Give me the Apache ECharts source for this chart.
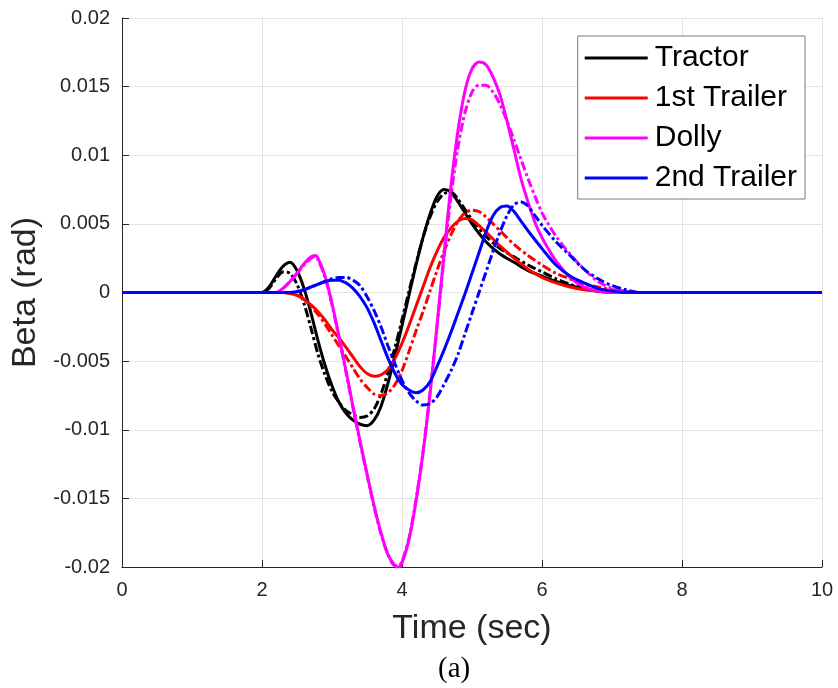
<!DOCTYPE html>
<html>
<head>
<meta charset="utf-8">
<script src="https://cdn.jsdelivr.net/npm/echarts@6/dist/echarts.min.js"></script>
<style>
  html, body { margin: 0; padding: 0; background: #fff; }
  #chart { width: 838px; height: 688px; }
</style>
</head>
<body>
<div id="chart"></div>
<script>
// Articulation angle responses [time (s), beta (rad)]
const tractorSolid = [[0,0],[2.0,0],[2.1,0.0004],[2.2,0.0012],[2.3,0.0019],[2.4,0.0022],[2.5,0.0016],[2.6,0.0003],[2.7,-0.0015],[2.8,-0.0035],[2.9,-0.0053],[3.0,-0.0068],[3.1,-0.0080],[3.2,-0.0088],[3.3,-0.0093],[3.4,-0.0096],[3.5,-0.0097],[3.6,-0.0093],[3.7,-0.0083],[3.8,-0.0066],[3.9,-0.0046],[4.0,-0.0024],[4.1,-0.0002],[4.2,0.0020],[4.3,0.0040],[4.4,0.0057],[4.5,0.0070],[4.6,0.0075],[4.7,0.0073],[4.8,0.0066],[5.0,0.0050],[5.2,0.0037],[5.4,0.0028],[5.6,0.0022],[5.8,0.0016],[6.0,0.0012],[6.2,0.0008],[6.4,0.0005],[6.6,0.0003],[6.8,0.0001],[7.0,0],[10,0]];
const tractorDash = [[0,0],[2.0,0],[2.1,0.0003],[2.2,0.0010],[2.3,0.0015],[2.4,0.0014],[2.5,0.0006],[2.6,-0.0008],[2.7,-0.0026],[2.8,-0.0045],[2.9,-0.0060],[3.0,-0.0072],[3.1,-0.0080],[3.2,-0.0086],[3.3,-0.0089],[3.4,-0.0091],[3.5,-0.0090],[3.6,-0.0085],[3.7,-0.0074],[3.8,-0.0058],[3.9,-0.0040],[4.0,-0.0020],[4.1,0.0001],[4.2,0.0021],[4.3,0.0040],[4.4,0.0055],[4.5,0.0066],[4.6,0.0072],[4.7,0.0073],[4.8,0.0068],[5.0,0.0053],[5.2,0.0041],[5.4,0.0032],[5.6,0.0026],[5.8,0.0020],[6.0,0.0015],[6.2,0.0010],[6.4,0.0006],[6.6,0.0003],[6.8,0.0001],[7.0,0],[10,0]];
const trailer1Solid = [[0,0],[2.3,0],[2.5,-0.0002],[2.6,-0.0005],[2.7,-0.0009],[2.8,-0.0014],[2.9,-0.0020],[3.0,-0.0027],[3.1,-0.0033],[3.2,-0.0040],[3.3,-0.0047],[3.4,-0.0054],[3.5,-0.0059],[3.6,-0.0061],[3.7,-0.0060],[3.8,-0.0056],[3.9,-0.0048],[4.0,-0.0037],[4.1,-0.0024],[4.2,-0.0010],[4.3,0.0004],[4.4,0.0018],[4.5,0.0030],[4.6,0.0040],[4.7,0.0047],[4.8,0.0052],[4.9,0.0054],[5.0,0.0053],[5.2,0.0044],[5.4,0.0034],[5.6,0.0025],[5.8,0.0017],[6.0,0.0011],[6.2,0.0007],[6.4,0.0004],[6.6,0.0002],[6.8,0.0001],[7.0,0],[10,0]];
const trailer1Dash = [[0,0],[2.3,0],[2.5,-0.0002],[2.6,-0.0005],[2.7,-0.0010],[2.8,-0.0016],[2.9,-0.0023],[3.0,-0.0031],[3.1,-0.0039],[3.2,-0.0047],[3.3,-0.0055],[3.4,-0.0063],[3.5,-0.0069],[3.6,-0.0074],[3.7,-0.0075],[3.8,-0.0073],[3.9,-0.0067],[4.0,-0.0057],[4.1,-0.0043],[4.2,-0.0028],[4.3,-0.0014],[4.4,0.0001],[4.5,0.0016],[4.6,0.0030],[4.7,0.0042],[4.8,0.0052],[4.9,0.0058],[5.0,0.0060],[5.1,0.0059],[5.2,0.0055],[5.4,0.0045],[5.6,0.0035],[5.8,0.0027],[6.0,0.0020],[6.2,0.0014],[6.4,0.0010],[6.6,0.0006],[6.8,0.0004],[7.0,0.0002],[7.2,0.0001],[7.4,0],[10,0]];
const dollySolid = [[0,0],[2.2,0],[2.3,0.0003],[2.4,0.0008],[2.5,0.0014],[2.6,0.0021],[2.7,0.0026],[2.76,0.0027],[2.8,0.0025],[2.9,0.0012],[3.0,-0.0008],[3.1,-0.0032],[3.2,-0.0057],[3.3,-0.0083],[3.4,-0.0108],[3.5,-0.0132],[3.6,-0.0155],[3.7,-0.0175],[3.8,-0.0191],[3.9,-0.0199],[3.95,-0.0200],[4.0,-0.0197],[4.1,-0.0180],[4.2,-0.0152],[4.3,-0.0117],[4.4,-0.0074],[4.5,-0.0024],[4.6,0.0028],[4.7,0.0078],[4.8,0.0118],[4.9,0.0147],[5.0,0.0163],[5.1,0.0168],[5.2,0.0166],[5.3,0.0157],[5.4,0.0144],[5.5,0.0125],[5.6,0.0104],[5.7,0.0083],[5.8,0.0066],[5.9,0.0051],[6.0,0.0040],[6.1,0.0031],[6.2,0.0023],[6.4,0.0011],[6.6,0.0004],[6.8,0.0001],[7.0,0],[10,0]];
const dollyDash = [[0,0],[2.2,0],[2.3,0.0003],[2.4,0.0008],[2.5,0.0014],[2.6,0.0020],[2.7,0.0025],[2.76,0.0026],[2.8,0.0024],[2.9,0.0011],[3.0,-0.0009],[3.1,-0.0033],[3.2,-0.0058],[3.3,-0.0084],[3.4,-0.0109],[3.5,-0.0133],[3.6,-0.0156],[3.7,-0.0176],[3.8,-0.0191],[3.9,-0.0199],[3.95,-0.0199],[4.0,-0.0196],[4.1,-0.0179],[4.2,-0.0151],[4.3,-0.0116],[4.4,-0.0073],[4.5,-0.0025],[4.6,0.0025],[4.7,0.0070],[4.8,0.0106],[4.9,0.0131],[5.0,0.0146],[5.1,0.0151],[5.2,0.0151],[5.3,0.0146],[5.4,0.0137],[5.5,0.0125],[5.6,0.0111],[5.7,0.0097],[5.8,0.0083],[5.9,0.0070],[6.0,0.0058],[6.1,0.0049],[6.2,0.0041],[6.4,0.0028],[6.6,0.0017],[6.8,0.0008],[7.0,0.0003],[7.2,0.0001],[7.4,0],[10,0]];
const trailer2Solid = [[0,0],[2.4,0],[2.6,0.0002],[2.7,0.0004],[2.8,0.0006],[2.9,0.0008],[3.0,0.0009],[3.1,0.0009],[3.2,0.0007],[3.3,0.0003],[3.4,-0.0003],[3.5,-0.0011],[3.6,-0.0022],[3.7,-0.0035],[3.8,-0.0048],[3.9,-0.0059],[4.0,-0.0067],[4.1,-0.0071],[4.2,-0.0073],[4.3,-0.0071],[4.4,-0.0065],[4.5,-0.0054],[4.6,-0.0042],[4.7,-0.0029],[4.8,-0.0015],[4.9,-0.0001],[5.0,0.0014],[5.1,0.0029],[5.2,0.0044],[5.3,0.0056],[5.4,0.0062],[5.5,0.0063],[5.6,0.0059],[5.7,0.0052],[5.8,0.0045],[6.0,0.0032],[6.2,0.0020],[6.4,0.0012],[6.6,0.0007],[6.8,0.0003],[7.0,0.0001],[7.2,0],[10,0]];
const trailer2Dash = [[0,0],[2.4,0],[2.6,0.0002],[2.7,0.0004],[2.8,0.0006],[2.9,0.0008],[3.0,0.0010],[3.1,0.0011],[3.2,0.0011],[3.3,0.0009],[3.4,0.0005],[3.5,-0.0003],[3.6,-0.0013],[3.7,-0.0025],[3.8,-0.0039],[3.9,-0.0052],[4.0,-0.0064],[4.1,-0.0073],[4.2,-0.0079],[4.3,-0.0082],[4.4,-0.0081],[4.5,-0.0076],[4.6,-0.0067],[4.7,-0.0057],[4.8,-0.0045],[4.9,-0.0030],[5.0,-0.0015],[5.1,0.0000],[5.2,0.0015],[5.3,0.0030],[5.4,0.0044],[5.5,0.0056],[5.6,0.0064],[5.7,0.0066],[5.8,0.0063],[5.9,0.0056],[6.0,0.0049],[6.2,0.0037],[6.4,0.0027],[6.6,0.0017],[6.8,0.0010],[7.0,0.0005],[7.2,0.0002],[7.4,0],[10,0]];

const vehicleNames = ['Tractor', '1st Trailer', 'Dolly', '2nd Trailer'];
const vehicleColors = ['#000000', '#ff0000', '#ff00ff', '#0000ff'];
const solidSets = [tractorSolid, trailer1Solid, dollySolid, trailer2Solid];
const dashSets = [tractorDash, trailer1Dash, dollyDash, trailer2Dash];

const chart = echarts.init(document.getElementById('chart'), null, { renderer: 'canvas' });

const series = [];
vehicleNames.forEach((name, i) => {
  series.push({
    name: name,
    type: 'line',
    data: solidSets[i],
    smooth: 0.3,
    showSymbol: false,
    lineStyle: { color: vehicleColors[i], width: 3 },
    itemStyle: { color: vehicleColors[i] },
    z: 2 + i
  });
  series.push({
    name: name + ' (model)',
    type: 'line',
    data: dashSets[i],
    smooth: 0.3,
    showSymbol: false,
    lineStyle: { color: vehicleColors[i], width: 3, type: [9, 3, 3, 3] },
    itemStyle: { color: vehicleColors[i] },
    z: 2 + i
  });
});

const axisFont = 'Liberation Sans, Arial, sans-serif';

chart.setOption({
  animation: false,
  backgroundColor: '#ffffff',
  grid: { left: 122, right: 16, top: 18, bottom: 121, containLabel: false },
  xAxis: {
    type: 'value',
    min: 0, max: 10, interval: 2,
    name: 'Time (sec)',
    nameLocation: 'middle',
    nameGap: 45,
    nameTextStyle: { fontFamily: axisFont, fontSize: 34, color: '#262626' },
    axisLine: { onZero: false, lineStyle: { color: '#262626', width: 1 } },
    axisTick: { inside: true, length: 7, lineStyle: { color: '#262626' } },
    axisLabel: { fontFamily: axisFont, fontSize: 20, color: '#262626', margin: 13 },
    splitLine: { show: true, lineStyle: { color: '#e3e3e3', width: 1 } }
  },
  yAxis: {
    type: 'value',
    min: -0.02, max: 0.02, interval: 0.005,
    name: 'Beta (rad)',
    nameLocation: 'middle',
    nameGap: 74,
    nameTextStyle: { fontFamily: axisFont, fontSize: 34, color: '#262626' },
    axisLine: { show: true, lineStyle: { color: '#262626', width: 1 } },
    axisTick: { show: true, inside: true, length: 7, lineStyle: { color: '#262626' } },
    axisLabel: {
      fontFamily: axisFont, fontSize: 20, color: '#262626', margin: 12,
      formatter: v => {
        const r = Math.round(v * 1000) / 1000;
        return r === 0 ? '0' : String(r);
      }
    },
    splitLine: { show: true, lineStyle: { color: '#e3e3e3', width: 1 } }
  },
  legend: {
    data: vehicleNames,
    orient: 'vertical',
    right: 33,
    top: 36,
    padding: [7, 8, 6, 7],
    itemGap: 10,
    itemWidth: 63,
    itemHeight: 3,
    icon: 'rect',
    backgroundColor: '#ffffff',
    borderColor: '#7a7a7a',
    borderWidth: 1,
    borderRadius: 0,
    textStyle: { fontFamily: axisFont, fontSize: 30, lineHeight: 30, color: '#000000', padding: [0, 0, 0, 2] }
  },
  graphic: [{
    type: 'text',
    left: 438,
    top: 655,
    style: { text: '(a)', font: '29px "Liberation Serif", "Times New Roman", serif', fill: '#000000' }
  }],
  series: series
});
</script>
</body>
</html>
